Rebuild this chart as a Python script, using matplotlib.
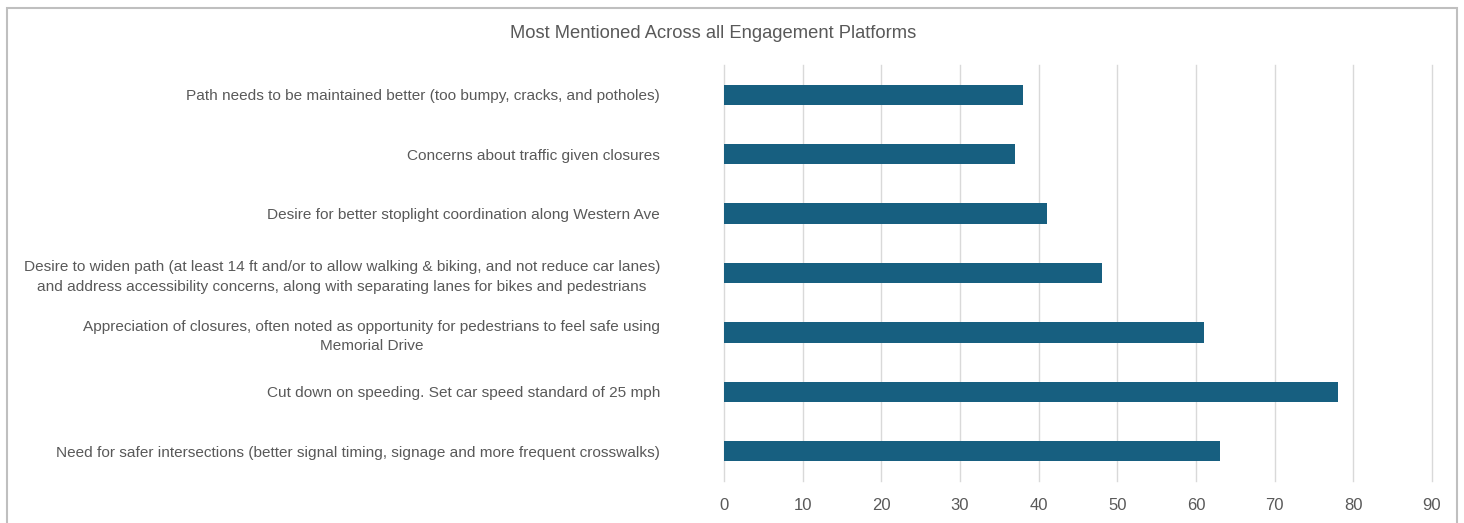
import matplotlib.pyplot as plt
from matplotlib.patches import Rectangle

# --- DATA (top to bottom as shown) ---
labels = [
    "Path needs to be maintained better (too bumpy, cracks, and potholes)",
    "Concerns about traffic given closures",
    "Desire for better stoplight coordination along Western Ave",
    "Desire to widen path (at least 14 ft and/or to allow walking & biking, and not reduce car lanes)\n"
    "and address accessibility concerns, along with separating lanes for bikes and pedestrians",
    "Appreciation of closures, often noted as opportunity for pedestrians to feel safe using\nMemorial Drive",
    "Cut down on speeding. Set car speed standard of 25 mph",
    "Need for safer intersections (better signal timing, signage and more frequent crosswalks)",
]
counts = [38, 37, 41, 48, 61, 78, 63]
xticks = [0, 10, 20, 30, 40, 50, 60, 70, 80, 90]

BAR_COLOR = '#175f80'
TEXT_COLOR = '#595959'
GRID_COLOR = '#d9d9d9'

plt.rcParams['font.family'] = ['Liberation Sans', 'DejaVu Sans']

W, H = 1464, 523
fig = plt.figure(figsize=(W / 100, H / 100), dpi=100)

# thin gray frame around the chart (bottom is cut off in the original)
fig.patches.append(Rectangle((6.5 / W, -0.1), (1457 - 6.5) / W, 1.1 - 7.5 / H,
                             transform=fig.transFigure, fill=False,
                             edgecolor='#bfbfbf', linewidth=1.5))

ax = fig.add_axes([724 / W, 42 / H, (1432 - 724) / W, (458 - 42) / H])

ypos = list(range(len(labels)))[::-1]
ax.barh(ypos, counts, height=0.34, color=BAR_COLOR, zorder=3)

ax.set_xlim(0, 90)
ax.set_ylim(-0.5, len(labels) - 0.5)
ax.set_xticks(xticks)
ax.set_xticklabels([str(t) for t in xticks], fontsize=12, color=TEXT_COLOR)
ax.set_yticks(ypos)
ax.set_yticklabels(labels, fontsize=11.1, color=TEXT_COLOR,
                   multialignment='center', linespacing=1.5)
ax.tick_params(axis='y', length=0, pad=46)
ax.tick_params(axis='x', length=0, pad=12)

ax.grid(axis='x', color=GRID_COLOR, linewidth=1, zorder=0)
for line in ax.get_xgridlines():
    line.set_clip_on(False)
for s in ax.spines.values():
    s.set_visible(False)

fig.text(713 / W, 1 - 33 / H, "Most Mentioned Across all Engagement Platforms",
         ha='center', va='center', fontsize=13.2, color=TEXT_COLOR)

fig.savefig('out.png', dpi=100)
